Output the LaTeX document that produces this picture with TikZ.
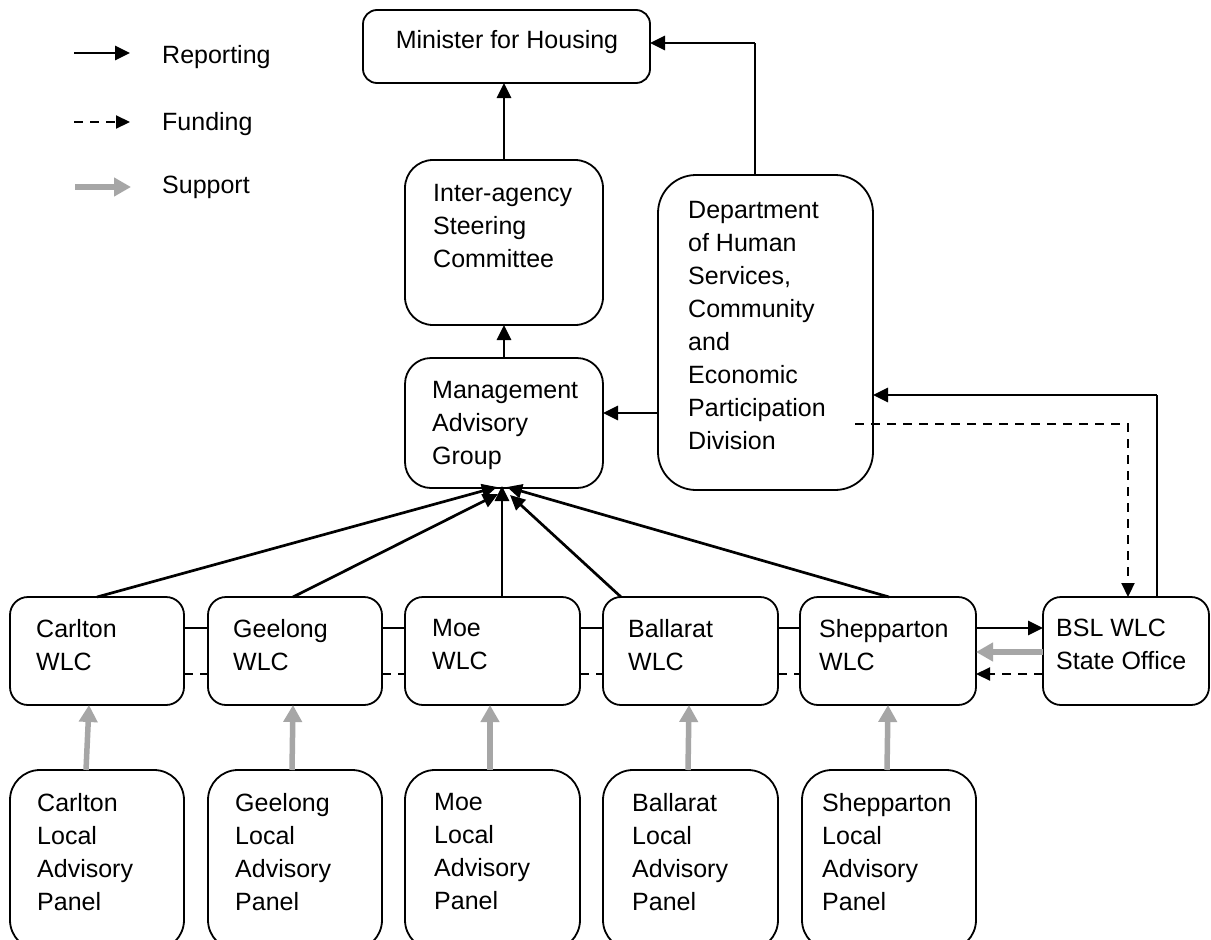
\documentclass[tikz,border=0pt]{standalone}
\usepackage{fontspec}
\setmainfont{Liberation Sans}
\usetikzlibrary{arrows.meta,calc}
\definecolor{supgray}{RGB}{166,166,166}
\begin{document}
\begin{tikzpicture}[x=1pt,y=-1pt,
  box/.style={draw=black,line width=1.8pt,inner sep=0pt,outer sep=0pt,anchor=north west},
  txt/.style={inner sep=0pt,anchor=north west,align=left,font=\fontsize{25}{33}\selectfont},
  rep/.style={draw=black,line width=2.7pt,-{Triangle[length=15pt,width=14pt]}},
  fund/.style={draw=black,line width=2.2pt,dash pattern=on 9pt off 7pt,-{Triangle[length=14pt,width=13pt]}},
  sup/.style={draw=supgray,line width=5.5pt,-{Triangle[length=17pt,width=18pt]}},
  link/.style={draw=black,line width=1.6pt},
  linkd/.style={draw=black,line width=1.6pt,dash pattern=on 9pt off 7pt},
]
\clip (0,0) rectangle (1211,940);
\fill[white] (0,0) rectangle (1211,940);

% legend
\coordinate (lr1) at (74,53);  \coordinate (lr2) at (130,53);
\coordinate (lf1) at (74,122); \coordinate (lf2) at (130,122);
\coordinate (ls1) at (75,187); \coordinate (ls2) at (131,187);
\draw[rep] (lr1) -- (lr2);
\draw[fund] (lf1) -- (lf2);
\draw[sup] (ls1) -- (ls2);
\node[inner sep=0pt,anchor=base west,font=\fontsize{25}{33}\selectfont] (tleg1) at (162,63) {Reporting};
\node[inner sep=0pt,anchor=base west,font=\fontsize{25}{33}\selectfont] (tleg2) at (162,130) {Funding};
\node[inner sep=0pt,anchor=base west,font=\fontsize{25}{33}\selectfont] (tleg3) at (162,193) {Support};

% boxes
\node[box,rounded corners=14pt,minimum width=287pt,minimum height=73pt] (minister) at (363,10) {};
\node[box,rounded corners=28pt,minimum width=198pt,minimum height=165pt] (inter) at (405,160) {};
\node[box,rounded corners=38pt,minimum width=215pt,minimum height=315pt] (dept) at (658,175) {};
\node[box,rounded corners=26pt,minimum width=198pt,minimum height=130pt] (mag) at (405,358) {};

\node[box,rounded corners=18pt,minimum width=174pt,minimum height=108pt] (carlton) at (10,597) {};
\node[box,rounded corners=18pt,minimum width=174pt,minimum height=108pt] (geelong) at (208,597) {};
\node[box,rounded corners=18pt,minimum width=175pt,minimum height=108pt] (moe) at (405,597) {};
\node[box,rounded corners=18pt,minimum width=175pt,minimum height=108pt] (ballarat) at (603,597) {};
\node[box,rounded corners=18pt,minimum width=176pt,minimum height=108pt] (shep) at (800,597) {};
\node[box,rounded corners=18pt,minimum width=166pt,minimum height=108pt] (bsl) at (1043,597) {};

\node[box,rounded corners=30pt,minimum width=174pt,minimum height=180pt] (pC) at (10,770) {};
\node[box,rounded corners=30pt,minimum width=174pt,minimum height=180pt] (pG) at (208,770) {};
\node[box,rounded corners=30pt,minimum width=175pt,minimum height=180pt] (pM) at (405,770) {};
\node[box,rounded corners=30pt,minimum width=175pt,minimum height=180pt] (pB) at (603,770) {};
\node[box,rounded corners=30pt,minimum width=174pt,minimum height=180pt] (pS) at (802,770) {};

% texts
\node[inner sep=0pt,anchor=base,font=\fontsize{25}{33}\selectfont] (tminister) at (507,48) {Minister for Housing};
\node[txt] (tinter) at (433,184) {Inter-agency\\Steering\\Committee};
\node[txt] (tdept) at (688,201) {Department\\of Human\\Services,\\Community\\and\\Economic\\Participation\\Division};
\node[txt] (tmag) at (432,381) {Management\\Advisory\\Group};

\node[txt] (tcarlton) at (36,619) {Carlton\\WLC};
\node[txt] (tgeelong) at (233,619) {Geelong\\WLC};
\node[txt] (tmoe) at (432,619) {Moe\\WLC};
\node[txt] (tballarat) at (628,619) {Ballarat\\WLC};
\node[txt] (tshep) at (819,619) {Shepparton\\WLC};
\node[txt] (tbsl) at (1056,619) {BSL WLC\\State Office};

\node[txt] (tpC) at (37,793) {Carlton\\Local\\Advisory\\Panel};
\node[txt] (tpG) at (235,793) {Geelong\\Local\\Advisory\\Panel};
\node[txt] (tpM) at (434,793) {Moe\\Local\\Advisory\\Panel};
\node[txt] (tpB) at (632,793) {Ballarat\\Local\\Advisory\\Panel};
\node[txt] (tpS) at (822,793) {Shepparton\\Local\\Advisory\\Panel};

% helper coordinates
\coordinate (rowS) at (0,628);
\coordinate (rowG) at (0,652);
\coordinate (rowD) at (0,674);
\coordinate (rowDM) at (0,413);
\coordinate (mincorner) at (755,43);
\coordinate (bslcorner) at (1157,395);
\coordinate (fundstart) at (855,424);
\coordinate (fundcorner) at (1128,424);

% top connectors
\draw[rep] (inter.north) -- (inter.north |- minister.south);
\draw[link] (dept.north -| mincorner) -- (mincorner);
\draw[rep] (mincorner) -- (minister.east |- mincorner);
\draw[rep] (mag.north) -- (inter.south);
\draw[rep] (dept.west |- rowDM) -- (mag.east |- rowDM);
\draw[link] (bsl.north -| bslcorner) -- (bslcorner);
\draw[rep] (bslcorner) -- (dept.east |- bslcorner);
\draw[fund] (fundstart) -| (bsl.north -| fundcorner);

% WLC reporting to MAG
\draw[rep] ($(carlton.north west)+(87,0)$) -- ($(mag.south)+(-7,-1)$);
\draw[rep] ($(geelong.north west)+(85,0)$) -- ($(mag.south)+(-6,6)$);
\draw[rep] ($(moe.north west)+(97,0)$) -- ($(mag.south)+(-2,-2)$);
\draw[rep] ($(ballarat.north west)+(18,0)$) -- ($(mag.south)+(6,7)$);
\draw[rep] ($(shep.north west)+(89,0)$) -- ($(mag.south)+(3,-1)$);

% links between WLCs
\draw[link] (carlton.east |- rowS) -- (geelong.west |- rowS);
\draw[link] (geelong.east |- rowS) -- (moe.west |- rowS);
\draw[link] (moe.east |- rowS) -- (ballarat.west |- rowS);
\draw[link] (ballarat.east |- rowS) -- (shep.west |- rowS);
\draw[linkd] (carlton.east |- rowD) -- (geelong.west |- rowD);
\draw[linkd] (geelong.east |- rowD) -- (moe.west |- rowD);
\draw[linkd] (moe.east |- rowD) -- (ballarat.west |- rowD);
\draw[linkd] (ballarat.east |- rowD) -- (shep.west |- rowD);

% Shepparton <-> BSL
\draw[rep] (shep.east |- rowS) -- (bsl.west |- rowS);
\draw[sup] (bsl.west |- rowG) -- (shep.east |- rowG);
\draw[fund] (bsl.west |- rowD) -- (shep.east |- rowD);

% support from panels
\draw[sup] ($(pC.north west)+(76,0)$) -- ($(carlton.south west)+(79,0)$);
\draw[sup] ($(pG.north west)+(84,0)$) -- ($(geelong.south west)+(85,0)$);
\draw[sup] ($(pM.north west)+(85,0)$) -- ($(moe.south west)+(85,0)$);
\draw[sup] ($(pB.north west)+(85,0)$) -- ($(ballarat.south west)+(86,0)$);
\draw[sup] ($(pS.north west)+(85,0)$) -- ($(shep.south west)+(88,0)$);
\end{tikzpicture}
\end{document}
